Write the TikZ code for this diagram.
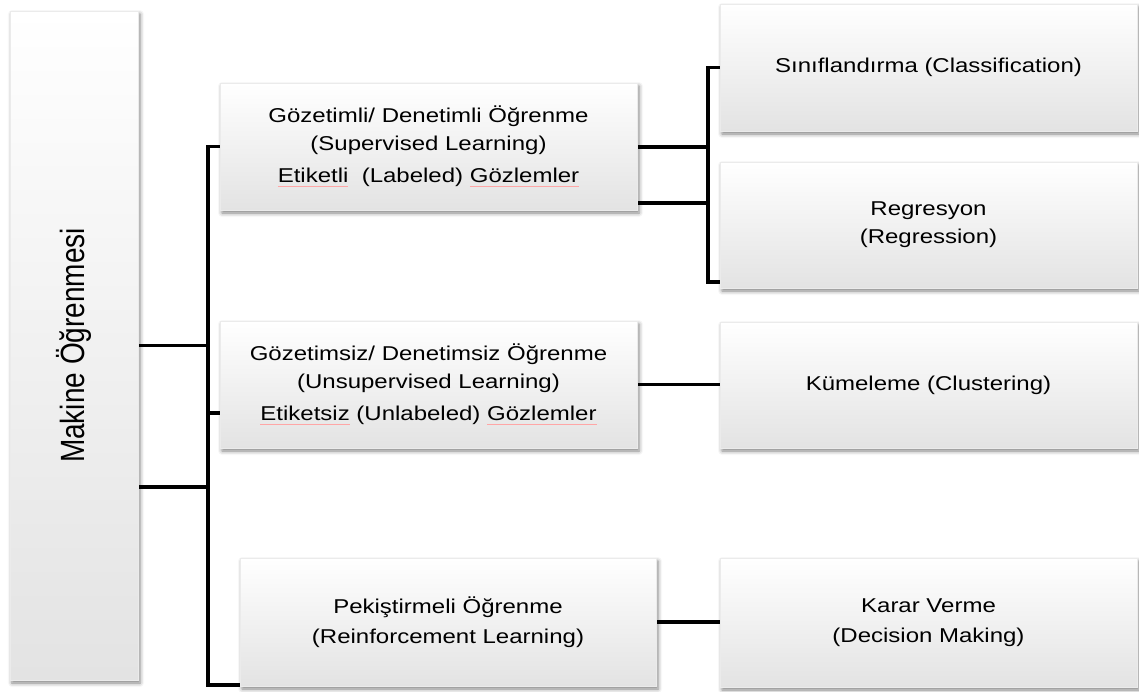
\documentclass[tikz,border=0pt]{standalone}
\usepackage{fontspec}
\usepackage{graphicx}
\setmainfont{Liberation Sans}[FakeStretch=1.2]
\newfontfamily\plainsans{Liberation Sans}
\usetikzlibrary{shadows.blur}
\pgfdeclarelayer{bg}
\pgfsetlayers{bg,main}
\newcommand\spellmark[1]{\setbox0\hbox{#1}\rlap{\color{red!35}\raisebox{-3.5pt}{\rule{\wd0}{0.7pt}}}\box0\relax}
\begin{document}
\begin{tikzpicture}[x=1pt,y=-1pt,
  box/.style={draw=black!8, line width=0.4pt, top color=white, bottom color=black!11,
    inner sep=0pt, minimum width=417pt, minimum height=127pt, align=center,
    font=\fontsize{20}{28}\selectfont,
    blur shadow={shadow xshift=2pt, shadow yshift=-3pt, shadow blur radius=4pt, shadow opacity=50}},
  conn/.style={line width=3.2pt, black, line join=miter}]
\useasboundingbox (0,0) rectangle (1139,691);

\node[box, minimum width=128pt, minimum height=669pt] (main) at (74,345.5)
  {\rotatebox{90}{\scalebox{1}[1.2]{\plainsans\fontsize{28}{30}\selectfont Makine Öğrenmesi}}};

\node[box] (sup) at (428.5,146.5)
  {Gözetimli/ Denetimli Öğrenme\\(Supervised Learning)\\[4pt]\spellmark{Etiketli}\ \ (Labeled) \spellmark{Gözlemler}};
\node[box] (uns) at (428.5,384.5)
  {Gözetimsiz/ Denetimsiz Öğrenme\\(Unsupervised Learning)\\[4pt]\spellmark{Etiketsiz} (Unlabeled) \spellmark{Gözlemler}};
\node[box, minimum width=416pt, minimum height=128pt] (rei) at (448,622)
  {Pekiştirmeli Öğrenme\\[2pt](Reinforcement Learning)};

\node[box] (cls) at (928.5,67.5) {Sınıflandırma (Classification)};
\node[box, minimum height=126pt] (reg) at (928.5,225) {Regresyon\\(Regression)};
\node[box, minimum height=126pt] (clu) at (928.5,385) {Kümeleme (Clustering)};
\node[box, minimum height=129pt] (dec) at (928.5,622.5) {Karar Verme\\[2pt](Decision Making)};

\coordinate (tb) at (208,685);
\coordinate (tend) at (280,685);
\coordinate (j2) at (208,487);
\coordinate (j3) at (208,413);
\coordinate (b1) at (708,147);
\coordinate (b2) at (708,203);
\coordinate (bb) at (708,282);

\begin{pgfonlayer}{bg}
\draw[conn] (sup.west) -- (sup.west -| tb) -- (tb) -- (tend);
\draw[conn] (main.east) -- (main.east -| tb);
\draw[conn] (j2 -| main.east) -- (j2);
\draw[conn] (j3) -- (j3 -| uns.west);
\draw[conn] (b1 -| sup.east) -- (b1);
\draw[conn] (b2 -| sup.east) -- (b2);
\draw[conn] (cls.west) -- (cls.west -| bb) -- (bb) -- (bb -| reg.west);
\draw[conn] (uns.east) -- (uns.east -| clu.west);
\draw[conn] (rei.east) -- (rei.east -| dec.west);
\end{pgfonlayer}
\end{tikzpicture}
\end{document}
